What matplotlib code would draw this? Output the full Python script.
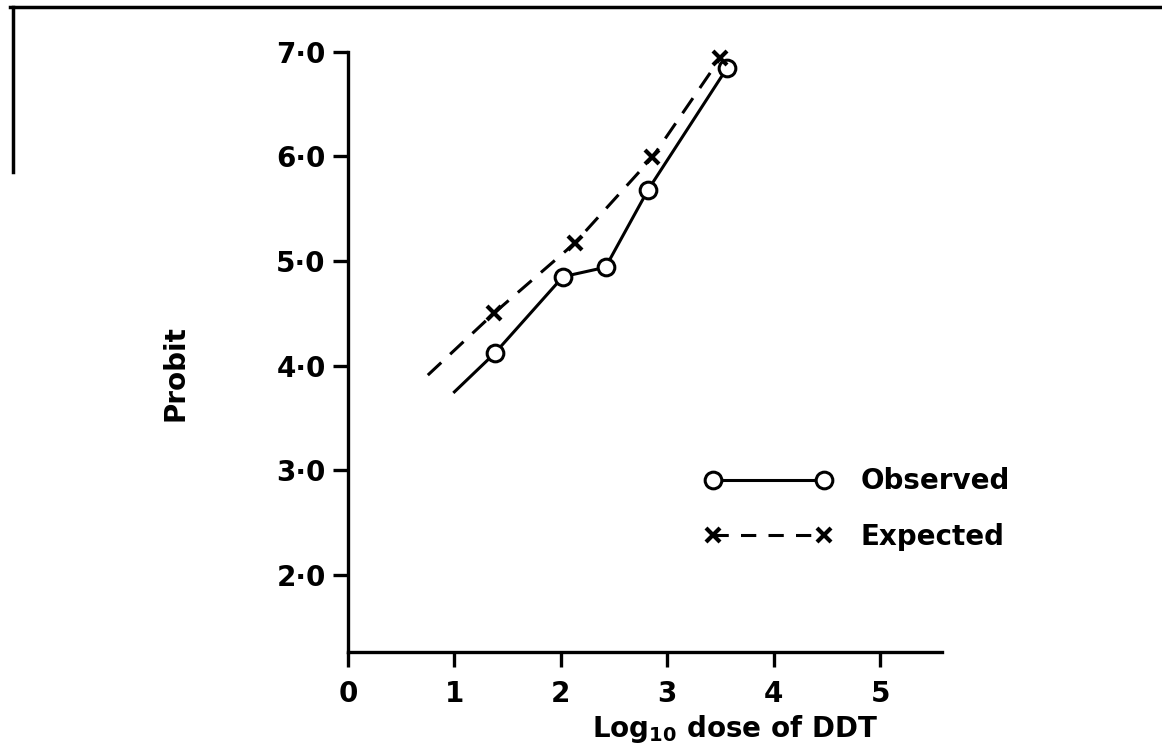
import matplotlib
matplotlib.use("Agg")
import matplotlib.pyplot as plt
from matplotlib.lines import Line2D

###############################数据###############################
# log10 dose of DDT / probit values
obs_dose = [1.38, 2.02, 2.42, 2.82, 3.56]
obs_probit = [4.12, 4.85, 4.94, 5.68, 6.84]
exp_dose = [1.37, 2.13, 2.86, 3.50]
exp_probit = [4.50, 5.17, 5.99, 6.94]
# lines continue a little below the first point (no marker there)
obs_start = (1.00, 3.75)
exp_start = (0.75, 3.91)

x_ticks = [0, 1, 2, 3, 4, 5]
x_tick_labels = ["0", "1", "2", "3", "4", "5"]
y_ticks = [2, 3, 4, 5, 6, 7]
y_tick_labels = ["2·0", "3·0", "4·0", "5·0", "6·0", "7·0"]


###############################绘图###############################
plt.rcParams['font.family'] = ['DejaVu Sans']
plt.rcParams['font.weight'] = 'bold'

fig = plt.figure(figsize=(11.62, 7.48), dpi=100)
ax = fig.add_axes([0.2995, 0.1283, 0.511, 0.8027])

obs_x = [obs_start[0]] + obs_dose
obs_y = [obs_start[1]] + obs_probit
exp_x = [exp_start[0]] + exp_dose
exp_y = [exp_start[1]] + exp_probit

ax.plot(obs_x, obs_y, color='black', lw=2.2, clip_on=False)
ax.plot(obs_dose, obs_probit, 'o', ms=12, mfc='white', mec='black',
        mew=2.2, clip_on=False, zorder=3)
ax.plot(exp_x, exp_y, color='black', lw=2.2, dashes=(6, 4), clip_on=False)
ax.plot(exp_dose, exp_probit, 'x', ms=10, mec='black', mew=3,
        clip_on=False, zorder=3)

ax.set_xlim(0, 5.58)
ax.set_ylim(1.265, 7.0)
ax.set_xticks(x_ticks)
ax.set_xticklabels(x_tick_labels)
ax.set_yticks(y_ticks)
ax.set_yticklabels(y_tick_labels)

for side in ['top', 'right']:
    ax.spines[side].set_visible(False)
for side in ['left', 'bottom']:
    ax.spines[side].set_linewidth(2.4)
ax.tick_params(axis='both', direction='out', length=11, width=2.4,
               labelsize=20)
ax.tick_params(axis='x', pad=9)
ax.tick_params(axis='y', pad=5)

ax.set_xlabel(r'Log$_{\mathbf{10}}$ dose of DDT', fontsize=20,
              fontweight='bold', va='center')
ax.xaxis.set_label_coords(0.652, -0.128)
ax.set_ylabel('Probit', fontsize=20, fontweight='bold', va='center')
ax.yaxis.set_label_coords(-0.291, 0.465)

handles = [
    Line2D([], [], color='black', lw=2.2, marker='o', ms=12, mfc='white',
           mec='black', mew=2.2),
    Line2D([], [], color='black', lw=2.2, dashes=(5, 4), marker='x', ms=10,
           mec='black', mew=3),
]
ax.legend(handles, ['Observed', 'Expected'], loc='center left',
          bbox_to_anchor=(0.601, 0.238), frameon=False, numpoints=2,
          handlelength=4.6, handletextpad=1.0, labelspacing=1.0,
          borderpad=0, borderaxespad=0, prop={'size': 20, 'weight': 'bold'})

# scanned page border (top edge and left edge piece)
fig.add_artist(Line2D([0.009, 1.0], [0.991, 0.991], color='black', lw=2.5,
                      transform=fig.transFigure))
fig.add_artist(Line2D([0.011, 0.011], [0.991, 0.77], color='black', lw=2.5,
                      transform=fig.transFigure))

fig.savefig('out.png', dpi=100, facecolor='white')
